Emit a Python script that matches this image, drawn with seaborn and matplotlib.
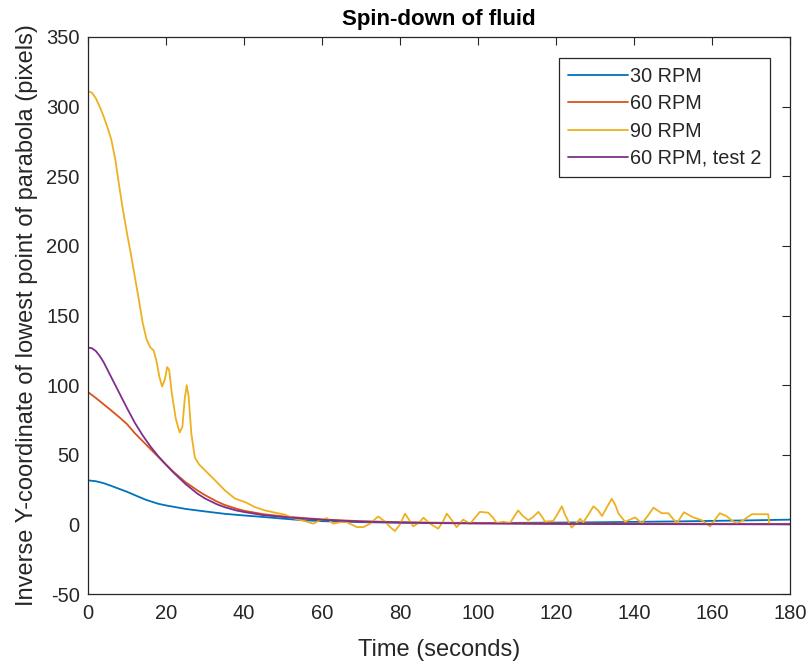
import numpy as np
import pandas as pd
import matplotlib
matplotlib.use('Agg')
import matplotlib.pyplot as plt
import seaborn as sns

# ---- data ----
t_30 = [0, 2, 4, 6, 8, 10, 13, 15, 18, 20, 25, 30, 35, 40, 45, 50, 55, 60, 70, 80, 90, 100,
        110, 120, 130, 140, 150, 160, 170, 180]
y_30 = [31.6, 31.0, 29.6, 27.6, 25.5, 23.4, 19.8, 17.5, 14.8, 13.6, 11.1, 9.3, 7.6, 6.4, 5.3,
        4.1, 3.0, 2.3, 1.6, 1.2, 1.0, 1.0, 1.1, 1.3, 1.5, 1.8, 2.1, 2.5, 2.9, 3.4]

t_60 = [0, 2, 5, 8, 10, 12, 15, 18, 20, 22, 25, 28, 30, 33, 35, 38, 40, 45, 50, 55, 60, 65,
        70, 80, 90, 100, 120, 140, 160, 180]
y_60 = [95, 90.8, 84, 77, 72, 65.5, 57, 48.5, 43, 37.5, 30.3, 24.5, 21, 16.5, 14, 11.3, 9.8,
        7.3, 5.8, 4.6, 3.6, 2.9, 2.3, 1.6, 1.2, 1.0, 0.7, 0.5, 0.4, 0.3]

t_90 = [0, 1, 2, 3, 4, 5, 6, 7, 8, 9, 10, 11, 12, 13, 14, 15, 16, 16.8, 17.5, 18.3, 19, 19.7,
        20.3, 20.8, 21.5, 22.5, 23.5, 24.2, 24.8, 25.3, 25.8, 26.5, 27.4, 28.5, 30, 32.6, 35.1,
        37.7, 40.3, 42.8, 45.4, 48, 50.5, 52.6, 54, 56, 57.8, 59.5, 61.2, 62.9, 64.5, 66, 67.5,
        68.9, 70.6, 72.3, 74.4, 76.2, 77.5, 78.7, 80, 81.3, 83.4, 84.8, 86, 87.7, 89.8, 91, 92,
        93.3, 94.5, 96.2, 98, 99, 100.5, 102.6, 103.8, 104.8, 106.5, 108.2, 110.3, 111.5, 112.9,
        114, 115.5, 116.5, 117.2, 119.3, 120.5, 121.5, 122.3, 124, 125.2, 126.2, 127, 128.3,
        129.6, 130.8, 131.8, 133, 134.3, 135.2, 136, 137.7, 140.3, 142, 143.5, 145, 147.1, 148.8,
        150, 151, 152.8, 155.2, 157.4, 159.5, 162, 163.7, 165, 166.3, 168, 170.2, 174.4, 174.7]
y_90 = [311, 310, 306, 300, 293, 285, 276, 262, 243, 225, 209, 194, 178, 162, 145, 133, 127,
        125, 118, 106, 99, 104, 113, 111, 94, 76, 66, 70, 90, 100, 92, 65, 48, 43, 38.8, 31.6,
        24.4, 18.5, 16, 12.4, 10, 8.4, 7, 4.5, 3.5, 2, 0.5, 3, 4.5, 0.5, 1.5, 2, 0, -1.9, -2,
        0.5, 5.7, 1.9, -2, -4.8, 0, 7.7, -1.4, 1, 4.8, 0.5, -3.1, 2, 7.7, 3, -2, 3.4, 0.5, 4,
        9, 8.4, 5, 1, 1.9, 1, 10, 6, 3, 5, 9, 5, 2, 2.5, 8, 13, 7, -2.3, 1, 4, 1.5, 7, 13, 10,
        6, 12, 18.4, 14, 8, 1.9, 5, 0.8, 6, 12, 8, 8, 4, 0.8, 8.7, 5, 3, -1.4, 8, 6, 3, 0.5, 3,
        7.3, 7.3, 0.5]

t_60b = [0, 1, 2, 3, 4, 5, 6, 7, 8, 9, 10, 12, 14, 16, 18, 20, 22, 25, 28, 30, 33, 35, 38, 40,
         45, 50, 55, 60, 65, 70, 80, 90, 100, 120, 140, 160, 180]
y_60b = [127, 126.5, 124.5, 121, 116.5, 111, 105.5, 100, 94.5, 89, 83.5, 73, 64, 56, 49, 42.8,
         37, 29, 22.2, 18.6, 14.5, 12.4, 10, 8.9, 6.6, 5.3, 4.2, 3.3, 2.6, 2.0, 1.3, 0.9, 0.6,
         0.3, 0.2, 0.1, 0.0]

labels = ['30 RPM', '60 RPM', '90 RPM', '60 RPM, test 2']
colors = ['#0072BD', '#D95319', '#EDB120', '#7E2F8E']
x_ticks = [0, 20, 40, 60, 80, 100, 120, 140, 160, 180]
y_ticks = [-50, 0, 50, 100, 150, 200, 250, 300, 350]

frames = []
for lab, t, y in zip(labels, [t_30, t_60, t_90, t_60b], [y_30, y_60, y_90, y_60b]):
    frames.append(pd.DataFrame({'Time': t, 'Y': y, 'Series': lab}))
df = pd.concat(frames, ignore_index=True)

sns.set_theme(style='white')
plt.rcParams['font.family'] = ['Liberation Sans', 'DejaVu Sans']
plt.rcParams['axes.unicode_minus'] = False

W, H = 809, 668
fig = plt.figure(figsize=(W / 100, H / 100), dpi=100)
fig.patch.set_facecolor('white')
ax = fig.add_axes([88 / W, 1 - 594 / H, (790 - 88) / W, (594 - 37) / H])

sns.lineplot(data=df, x='Time', y='Y', hue='Series', hue_order=labels, palette=colors,
             estimator=None, sort=False, linewidth=1.3, ax=ax)

ax.set_xlim(0, 180)
ax.set_ylim(-50, 350)
ax.set_xticks(x_ticks)
ax.set_yticks(y_ticks)
ax.tick_params(direction='in', length=5.5, width=0.8, colors='#262626', labelsize=14.5,
               top=True, right=True, labelcolor='#262626')
ax.tick_params(axis='x', pad=7)
ax.tick_params(axis='y', pad=6)
for s in ax.spines.values():
    s.set_visible(True)
    s.set_color('#262626')
    s.set_linewidth(0.9)

ax.set_xlabel('Time (seconds)', fontsize=17, color='#262626', labelpad=12)
ax.set_ylabel('Inverse Y-coordinate of lowest point of parabola (pixels)', fontsize=17,
              color='#262626', labelpad=6)
ax.set_title('Spin-down of fluid', fontsize=16, fontweight='bold', color='black', pad=9)

leg = ax.legend(loc='upper right', bbox_to_anchor=(0.9715, 0.9623), borderaxespad=0,
                fontsize=14.3, frameon=True, fancybox=False, handlelength=3.0,
                handletextpad=0.1, labelspacing=0.42, borderpad=0.45, title=None)
leg.get_frame().set_edgecolor('#262626')
leg.get_frame().set_linewidth(0.9)
leg.get_frame().set_facecolor('white')
leg.get_frame().set_alpha(1)
for line in leg.get_lines():
    line.set_linewidth(1.3)
for txt in leg.get_texts():
    txt.set_color('#262626')

fig.savefig('out.png', dpi=100, facecolor='white')
